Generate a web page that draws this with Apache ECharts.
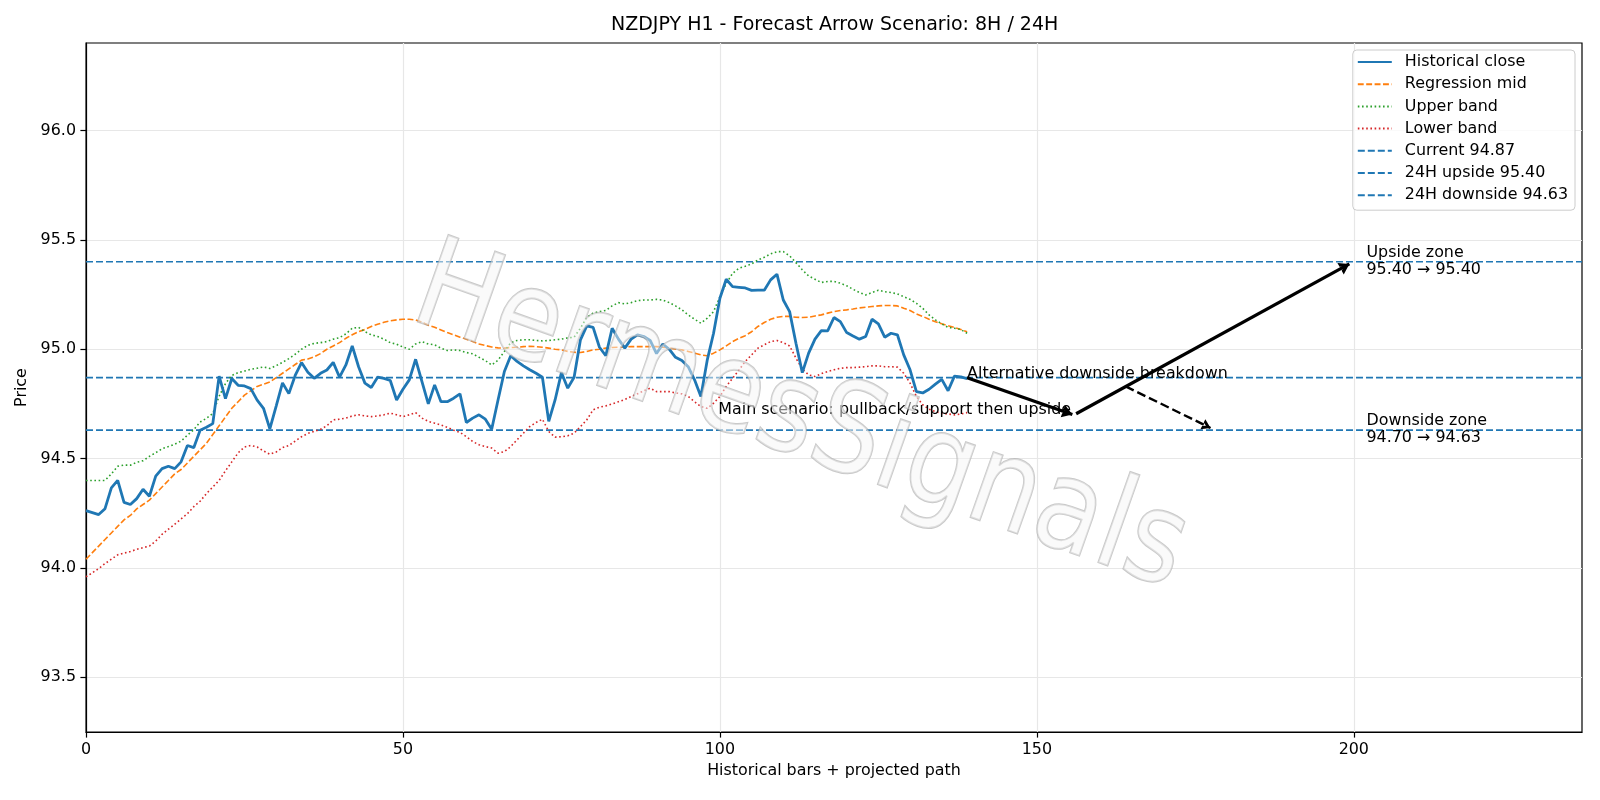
<!DOCTYPE html>
<html>
<head>
<meta charset="utf-8">
<title>NZDJPY H1 - Forecast Arrow Scenario</title>
<script src="https://cdn.jsdelivr.net/npm/echarts@6.0.0/dist/echarts.min.js"></script>
<style>
html, body { margin: 0; padding: 0; background: #fff; }
#chartContainer { width: 1600px; height: 800px; }
</style>
</head>
<body>
<div id="chartContainer"></div>
<script>
// values
var closeValues = [
	94.262, 94.253, 94.244, 94.271, 94.366, 94.40, 94.30, 94.29, 94.317, 94.36,
	94.328, 94.42, 94.454, 94.465, 94.454, 94.485, 94.56, 94.55, 94.63, 94.643,
	94.66, 94.877, 94.774, 94.866, 94.835, 94.832, 94.82, 94.767, 94.73, 94.636,
	94.74, 94.846, 94.797, 94.88, 94.939, 94.895, 94.867, 94.89, 94.905, 94.94,
	94.872, 94.928, 95.015, 94.92, 94.845, 94.825, 94.872, 94.867, 94.857, 94.768,
	94.817, 94.86, 94.954, 94.852, 94.75, 94.837, 94.76, 94.76, 94.776, 94.796,
	94.665, 94.685, 94.70, 94.68, 94.634, 94.768, 94.898, 94.97, 94.944, 94.924,
	94.906, 94.89, 94.872, 94.67, 94.768, 94.893, 94.822, 94.872, 95.043, 95.107,
	95.10, 95.009, 94.97, 95.096, 95.046, 95.005, 95.046, 95.066, 95.058, 95.04,
	94.98, 95.024, 95.0, 94.963, 94.948, 94.92, 94.86, 94.784, 94.95, 95.073,
	95.233, 95.32, 95.286, 95.283, 95.28, 95.269, 95.27, 95.27, 95.317, 95.343,
	95.225, 95.172, 95.027, 94.893, 94.982, 95.046, 95.085, 95.084, 95.145, 95.126,
	95.076, 95.06, 95.046, 95.058, 95.137, 95.116, 95.055, 95.073, 95.066, 94.974,
	94.906, 94.806, 94.80, 94.817, 94.84, 94.862, 94.81, 94.877, 94.874, 94.866
];
var midValues = [
	94.04, 94.07, 94.10, 94.13, 94.16, 94.19, 94.22, 94.24, 94.27, 94.29,
	94.31, 94.34, 94.37, 94.40, 94.43, 94.45, 94.48, 94.51, 94.54, 94.57,
	94.61, 94.65, 94.69, 94.73, 94.76, 94.79, 94.81, 94.83, 94.84, 94.85,
	94.87, 94.89, 94.91, 94.93, 94.95, 94.955, 94.966, 94.98, 95.0, 95.015,
	95.03, 95.05, 95.066, 95.08, 95.09, 95.104, 95.114, 95.123, 95.13, 95.134,
	95.137, 95.137, 95.134, 95.123, 95.11, 95.10, 95.088, 95.076, 95.066, 95.055,
	95.046, 95.035, 95.024, 95.017, 95.01, 95.006, 95.005, 95.008, 95.009, 95.012,
	95.013, 95.012, 95.009, 95.005, 95.0, 94.997, 94.99, 94.986, 94.985, 94.99,
	94.997, 95.0, 95.005, 95.008, 95.009, 95.01, 95.012, 95.012, 95.012, 95.012,
	95.012, 95.009, 95.006, 95.0, 94.997, 94.99, 94.982, 94.974, 94.97, 94.982,
	94.997, 95.015, 95.035, 95.05, 95.062, 95.08, 95.104, 95.122, 95.137, 95.146,
	95.15, 95.15, 95.146, 95.145, 95.146, 95.152, 95.157, 95.165, 95.172, 95.177,
	95.18, 95.184, 95.189, 95.192, 95.195, 95.198, 95.2, 95.2, 95.198, 95.187,
	95.177, 95.161, 95.15, 95.137, 95.126, 95.116, 95.107, 95.10, 95.09, 95.08
];
var upperValues = [
	94.40, 94.40, 94.40, 94.40, 94.43, 94.465, 94.47, 94.47, 94.483, 94.49,
	94.51, 94.527, 94.545, 94.555, 94.566, 94.58, 94.607, 94.632, 94.667, 94.684,
	94.706, 94.785, 94.843, 94.88, 94.893, 94.90, 94.908, 94.913, 94.919, 94.912,
	94.925, 94.94, 94.957, 94.977, 95.0, 95.018, 95.027, 95.03, 95.035, 95.046,
	95.053, 95.07, 95.096, 95.10, 95.08, 95.066, 95.058, 95.046, 95.03, 95.023,
	95.01, 95.0, 95.024, 95.035, 95.024, 95.02, 95.005, 94.994, 94.997, 94.994,
	94.985, 94.979, 94.963, 94.948, 94.928, 94.95, 94.99, 95.03, 95.04, 95.043,
	95.043, 95.04, 95.038, 95.04, 95.043, 95.046, 95.052, 95.055, 95.096, 95.146,
	95.165, 95.172, 95.177, 95.198, 95.213, 95.207, 95.213, 95.222, 95.225, 95.225,
	95.228, 95.225, 95.213, 95.198, 95.18, 95.157, 95.137, 95.119, 95.142, 95.172,
	95.24, 95.30, 95.347, 95.37, 95.379, 95.39, 95.408, 95.42, 95.436, 95.446,
	95.446, 95.427, 95.396, 95.363, 95.335, 95.32, 95.305, 95.31, 95.31, 95.302,
	95.29, 95.274, 95.259, 95.248, 95.259, 95.27, 95.263, 95.259, 95.253, 95.24,
	95.228, 95.21, 95.187, 95.157, 95.134, 95.116, 95.10, 95.096, 95.09, 95.073
];
var lowerValues = [
	93.959, 93.978, 93.997, 94.02, 94.04, 94.06, 94.068, 94.075, 94.085, 94.093,
	94.10, 94.123, 94.154, 94.177, 94.20, 94.224, 94.248, 94.28, 94.305, 94.34,
	94.37, 94.40, 94.444, 94.485, 94.526, 94.553, 94.56, 94.553, 94.535, 94.52,
	94.53, 94.55, 94.56, 94.58, 94.60, 94.615, 94.624, 94.634, 94.65, 94.677,
	94.68, 94.685, 94.695, 94.70, 94.695, 94.692, 94.695, 94.70, 94.708, 94.70,
	94.692, 94.70, 94.71, 94.685, 94.67, 94.662, 94.654, 94.643, 94.63, 94.62,
	94.60, 94.578, 94.563, 94.555, 94.548, 94.525, 94.532, 94.555, 94.586, 94.616,
	94.646, 94.665, 94.68, 94.624, 94.598, 94.60, 94.604, 94.616, 94.646, 94.677,
	94.723, 94.735, 94.741, 94.75, 94.76, 94.77, 94.784, 94.796, 94.81, 94.822,
	94.806, 94.806, 94.806, 94.80, 94.796, 94.784, 94.76, 94.738, 94.73, 94.753,
	94.784, 94.83, 94.867, 94.905, 94.944, 94.974, 95.005, 95.02, 95.035, 95.04,
	95.03, 95.015, 94.959, 94.909, 94.883, 94.875, 94.888, 94.898, 94.906, 94.913,
	94.916, 94.916, 94.918, 94.92, 94.924, 94.924, 94.92, 94.92, 94.918, 94.89,
	94.845, 94.784, 94.746, 94.726, 94.715, 94.707, 94.704, 94.70, 94.704, 94.71
];

var levelNames = ['Current 94.87', '24H upside 95.40', '24H downside 94.63'];
var levelValues = [94.87, 95.40, 94.63];

// projected path: main leg 1, main leg 2, alternative (dashed)
var arrowFrom = [[139, 94.87], [156.2, 94.705], [164, 94.83]];
var arrowTo = [[155.6, 94.702], [199.3, 95.39], [177.4, 94.64]];

var noteTexts = [
	'Alternative downside breakdown',
	'Main scenario: pullback/support then upside',
	'Upside zone\n95.40 \u2192 95.40',
	'Downside zone\n94.70 \u2192 94.63'
];
var notePoints = [[139, 94.848], [155.4, 94.683], [202, 95.40], [202, 94.635]];

var xTicks = [0, 50, 100, 150, 200];
var yTicks = [93.5, 94.0, 94.5, 95.0, 95.5, 96.0];
var xMax = 236;

var FONT = '"DejaVu Sans", Verdana, sans-serif';
var option = null;

function toPairs(values) {
	var out = [];
	for (var i = 0; i < values.length; i++) {
		out.push([i, values[i]]);
	}
	return out;
}

function lineSeries(name, data, color, width, dash, z) {
	return {
		name: name,
		type: 'line',
		data: data,
		symbol: 'none',
		silent: true,
		animation: false,
		z: z,
		lineStyle: { color: color, width: width, type: dash },
		itemStyle: { color: color }
	};
}

// open "->" style head, tip at the centre of the symbol box
var chevron = 'path://M0,0L0.05,0L0,0.05Z M10,0L9.95,0L10,0.05Z M5,5L8.3,10L6.1,10L5,8.0L3.9,10L1.7,10Z';

function initOption() {
	var series = [];
	series.push(lineSeries('Historical close', toPairs(closeValues), '#1f77b4', 2.8, 'solid', 5));
	series.push(lineSeries('Regression mid', toPairs(midValues), '#ff7f0e', 1.6, [5.9, 2.5], 4));
	series.push(lineSeries('Upper band', toPairs(upperValues), '#2ca02c', 1.6, [1.6, 2.6], 4));
	series.push(lineSeries('Lower band', toPairs(lowerValues), '#d62728', 1.6, [1.6, 2.6], 4));

	for (var j = 0; j < levelNames.length; j++) {
		series.push(lineSeries(levelNames[j], [[0, levelValues[j]], [xMax, levelValues[j]]], '#1f77b4', 1.6, [7, 3], 3));
	}

	var solidArrows = [];
	var dashedArrows = [];
	for (var k = 0; k < arrowFrom.length; k++) {
		var item = { coords: [arrowFrom[k], arrowTo[k]] };
		if (k < 2) solidArrows.push(item); else dashedArrows.push(item);
	}
	series.push({
		type: 'lines', coordinateSystem: 'cartesian2d', z: 8, silent: true, animation: false,
		symbol: ['none', chevron], symbolSize: 20,
		lineStyle: { color: '#000', width: 3.2, opacity: 1, curveness: 0 },
		data: solidArrows
	});
	series.push({
		type: 'lines', coordinateSystem: 'cartesian2d', z: 8, silent: true, animation: false,
		symbol: ['none', chevron], symbolSize: 17,
		lineStyle: { color: '#000', width: 2.4, opacity: 1, type: [9, 4], curveness: 0 },
		data: dashedArrows
	});

	var labelSets = [
		{ align: 'left', verticalAlign: 'bottom' },
		{ align: 'right', verticalAlign: 'bottom' },
		{ align: 'left', verticalAlign: 'middle' },
		{ align: 'left', verticalAlign: 'middle' }
	];
	var notes = [];
	for (var n = 0; n < noteTexts.length; n++) {
		notes.push({
			value: notePoints[n],
			label: {
				show: true, formatter: noteTexts[n], position: [0, 0],
				align: labelSets[n].align, verticalAlign: labelSets[n].verticalAlign,
				color: '#000', opacity: 1, textBorderWidth: 0
			}
		});
	}
	series.push({
		type: 'scatter', data: notes, symbolSize: 0, z: 9, silent: true, animation: false,
		itemStyle: { color: '#000', opacity: 0 },
		label: { color: '#000', fontSize: 15.9, fontFamily: FONT, lineHeight: 17, textBorderWidth: 0 }
	});

	option = {
		backgroundColor: '#fff',
		animation: false,
		textStyle: { fontFamily: FONT },
		title: {
			text: 'NZDJPY H1 - Forecast Arrow Scenario: 8H / 24H',
			left: 611, top: 16, padding: 0,
			textStyle: { fontSize: 19, fontWeight: 'normal', color: '#000', fontFamily: FONT }
		},
		legend: {
			data: ['Historical close', 'Regression mid', 'Upper band', 'Lower band'].concat(levelNames),
			orient: 'vertical',
			right: 25, top: 50,
			padding: [4, 7, 7, 4],
			itemWidth: 34, itemHeight: 14, itemGap: 6.2,
			backgroundColor: 'rgba(255,255,255,0.8)',
			borderColor: '#cccccc', borderWidth: 1, borderRadius: 4,
			selectedMode: false,
			itemStyle: { opacity: 0 },
			textStyle: { color: '#000', fontSize: 15.9, fontFamily: FONT, lineHeight: 16, padding: [0, 0, 0, 8] }
		},
		grid: {
			left: 86, right: 18, top: 43, bottom: 68,
			show: true, borderColor: '#000', borderWidth: 1.2, backgroundColor: 'transparent'
		},
		xAxis: {
			type: 'value', min: 0, max: xMax,
			name: 'Historical bars + projected path',
			nameLocation: 'middle', nameGap: 30,
			nameTextStyle: { color: '#000', fontSize: 15.9, fontFamily: FONT },
			axisLine: { show: true, lineStyle: { color: '#000', width: 1.2 } },
			axisTick: { show: true, length: 5.6, customValues: xTicks, lineStyle: { color: '#000', width: 1.2 } },
			axisLabel: { customValues: xTicks, margin: 10, color: '#000', fontSize: 15.9, fontFamily: FONT },
			splitLine: { show: true, lineStyle: { color: '#e7e7e7', width: 1.2 } }
		},
		yAxis: {
			type: 'value', min: 93.25, max: 96.4,
			name: 'Price',
			nameLocation: 'middle', nameGap: 49, nameRotate: 90,
			nameTextStyle: { color: '#000', fontSize: 15.9, fontFamily: FONT },
			axisLine: { show: true, lineStyle: { color: '#000', width: 1.2 } },
			axisTick: { show: true, length: 5.6, customValues: yTicks, lineStyle: { color: '#000', width: 1.2 } },
			axisLabel: {
				customValues: yTicks, margin: 10, color: '#000', fontSize: 15.9, fontFamily: FONT,
				formatter: function(v) { return v.toFixed(1); }
			},
			splitLine: { show: true, lineStyle: { color: '#e7e7e7', width: 1.2 } }
		},
		graphic: [{
			type: 'text', x: 800, y: 422, rotation: -0.34, scaleX: 0.86, z: 100, silent: true,
			style: {
				text: 'HermesSignals',
				fontSize: 126, fontFamily: FONT,
				fill: 'rgba(245,245,245,0.5)',
				stroke: 'rgba(165,165,165,0.6)', lineWidth: 2,
				align: 'center', verticalAlign: 'middle',
				shadowColor: 'rgba(0,0,0,0.4)', shadowBlur: 1, shadowOffsetX: 4, shadowOffsetY: 4
			}
		}],
		series: series
	};
}

function initChart() {
	initOption();
	var chartContainer = echarts.init(document.getElementById('chartContainer'));
	chartContainer.setOption(option);
}

initChart();
</script>
</body>
</html>
